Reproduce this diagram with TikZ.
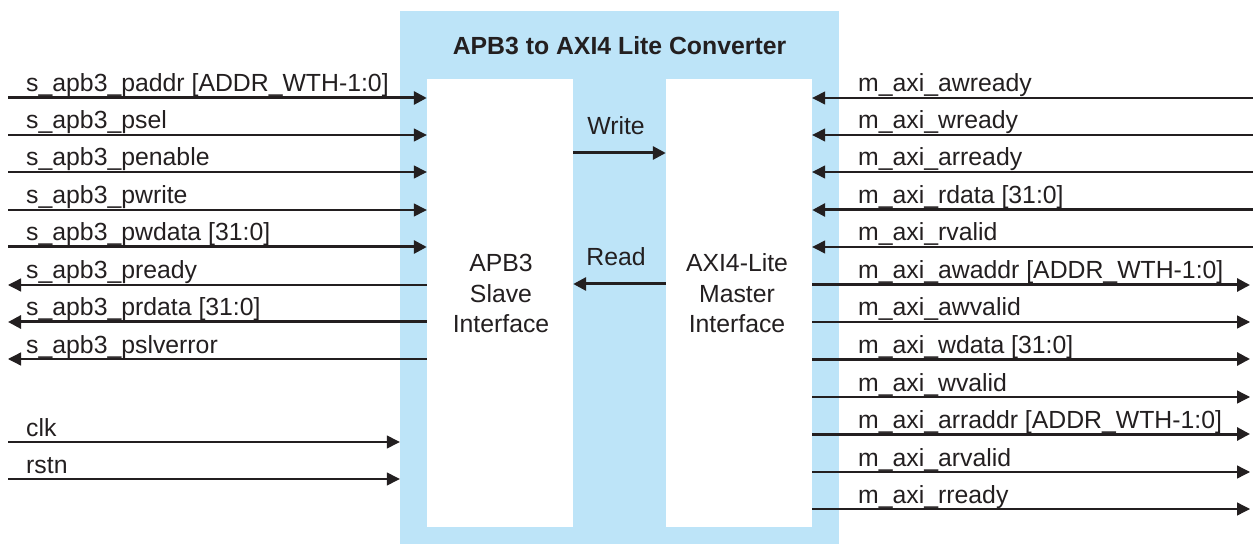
\documentclass[tikz,border=0pt]{standalone}
\usepackage{fontspec}
\setmainfont{Liberation Sans}
\usetikzlibrary{arrows.meta}
\definecolor{bgblue}{HTML}{BDE4F8}
\definecolor{ink}{HTML}{231F20}
\begin{document}
\begin{tikzpicture}[x=1pt,y=-1pt,
  sig/.style={draw=ink, line width=1.3pt, -{Triangle[length=13pt,width=13pt]}},
  bus/.style={sig, line width=3pt},
  lbl/.style={anchor=base west, inner sep=0pt, text=ink, font=\fontsize{24.8}{30.5}\selectfont},
  ctxt/.style={anchor=base, inner sep=0pt, text=ink, align=center, font=\fontsize{24.8}{30.5}\selectfont},
  blk/.style={fill=white, draw=none, minimum width=146pt, minimum height=448pt, inner sep=0pt}]
\useasboundingbox (0,0) rectangle (1253,545);
\node[fill=bgblue, draw=none, inner sep=0pt, minimum width=439pt, minimum height=533pt] (conv) at (619.5,277.5) {};
\node[blk] (slave) at (500,303) {};
\node[blk] (master) at (739,303) {};
\node[ctxt, font=\fontsize{24.8}{30.5}\selectfont\bfseries] (title) at (619.5,55) {APB3 to AXI4 Lite Converter};
\node[ctxt] (slavetxt) at (501,333) {APB3\\Slave\\Interface};
\node[ctxt] (mastertxt) at (737,333) {AXI4-Lite\\Master\\Interface};
% write / read
\coordinate (wr) at (620,153);
\coordinate (rd) at (620,284);
\draw[bus] (slave.east |- wr) -- (master.west |- wr);
\draw[bus] (master.west |- rd) -- (slave.east |- rd);
\node[ctxt] (wrtxt) at (616,135) {Write};
\node[ctxt] (rdtxt) at (616,266) {Read};
% left inputs
\foreach \y/\t/\s [count=\i] in {98/{s\_apb3\_paddr [ADDR\_WTH-1:0]}/bus,135/{s\_apb3\_psel}/sig,172/{s\_apb3\_penable}/sig,210/{s\_apb3\_pwrite}/sig,247/{s\_apb3\_pwdata [31:0]}/bus}{
  \coordinate (li\i) at (8,\y);
  \draw[\s] (li\i) -- (li\i -| slave.west);
  \node[lbl] (lil\i) at (26,\y-6) {\t};
}
% left outputs
\foreach \y/\t/\s [count=\i] in {285/{s\_apb3\_pready}/sig,322/{s\_apb3\_prdata [31:0]}/bus,359/{s\_apb3\_pslverror}/sig}{
  \coordinate (lo\i) at (8,\y);
  \draw[\s] (lo\i -| slave.west) -- (lo\i);
  \node[lbl] (lol\i) at (26,\y-6) {\t};
}
% clk rstn
\foreach \y/\t [count=\i] in {442/clk,479/rstn}{
  \coordinate (lc\i) at (8,\y);
  \draw[sig] (lc\i) -- (lc\i -| conv.west);
  \node[lbl] (lcl\i) at (26,\y-6) {\t};
}
% right inputs
\foreach \y/\t/\s [count=\i] in {98/{m\_axi\_awready}/sig,135/{m\_axi\_wready}/sig,172/{m\_axi\_arready}/sig,210/{m\_axi\_rdata [31:0]}/bus,247/{m\_axi\_rvalid}/sig}{
  \coordinate (ri\i) at (1253,\y);
  \draw[\s] (ri\i) -- (ri\i -| master.east);
  \node[lbl] (ril\i) at (858,\y-6) {\t};
}
% right outputs
\foreach \y/\t/\s [count=\i] in {285/{m\_axi\_awaddr [ADDR\_WTH-1:0]}/bus,322/{m\_axi\_awvalid}/sig,359/{m\_axi\_wdata [31:0]}/bus,397/{m\_axi\_wvalid}/sig,434/{m\_axi\_arraddr [ADDR\_WTH-1:0]}/bus,472/{m\_axi\_arvalid}/sig,509/{m\_axi\_rready}/sig}{
  \coordinate (ro\i) at (1250,\y);
  \draw[\s] (ro\i -| master.east) -- (ro\i);
  \node[lbl] (rol\i) at (858,\y-6) {\t};
}
\end{tikzpicture}
\end{document}
